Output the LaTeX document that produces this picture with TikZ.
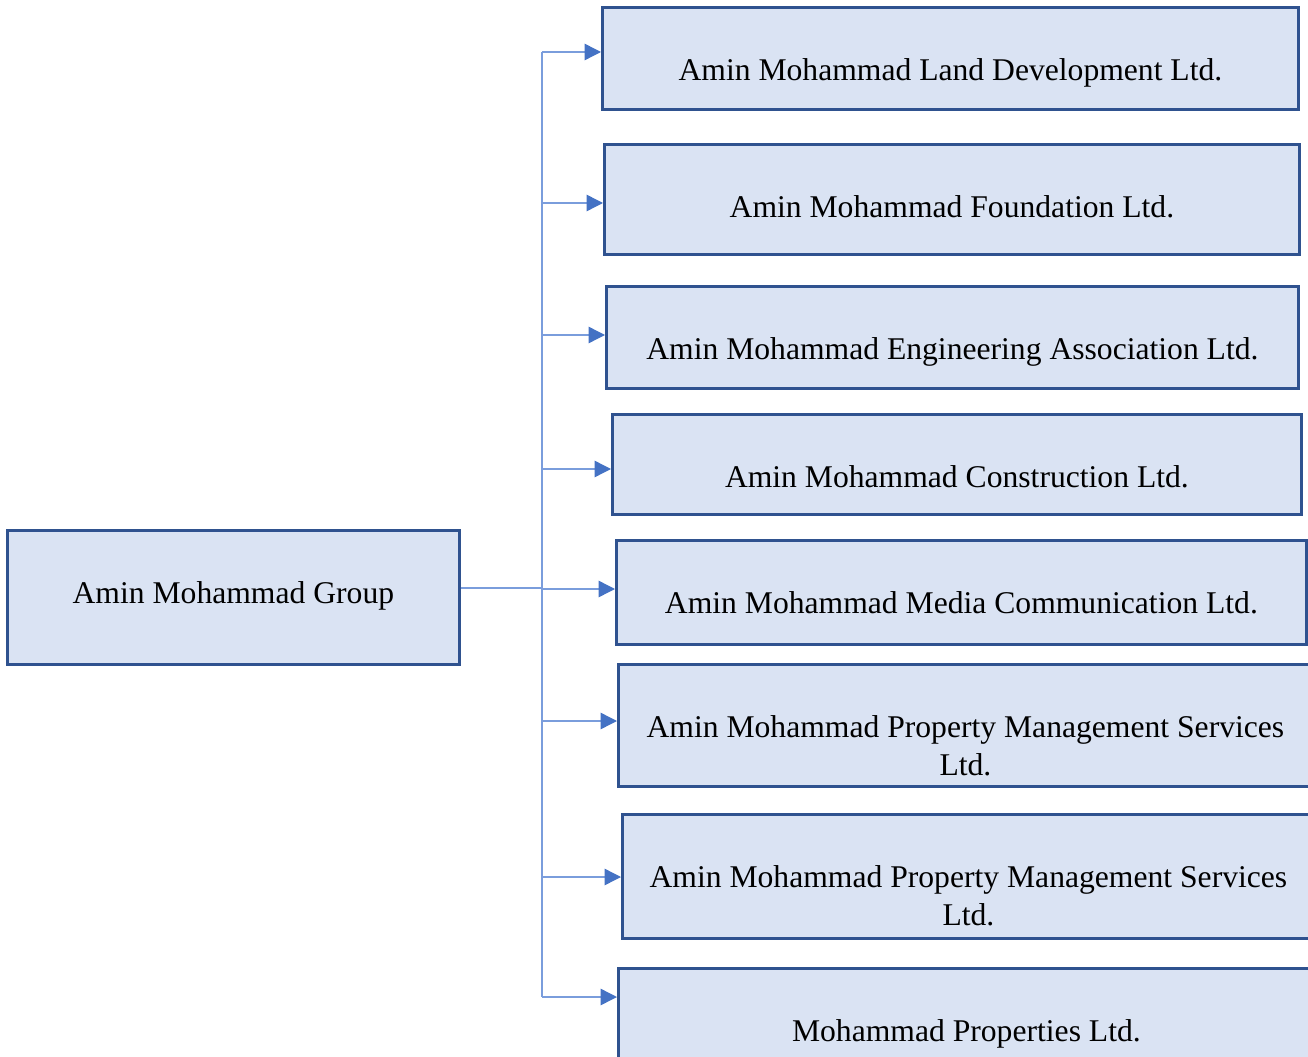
\documentclass[tikz,border=0pt]{standalone}
\usepackage{fontspec}
\setmainfont{Liberation Serif}
\usetikzlibrary{arrows.meta, positioning}

\definecolor{boxfill}{HTML}{DAE3F3}
\definecolor{boxline}{HTML}{2F528F}
\definecolor{linkline}{HTML}{7A9DDC}
\definecolor{tipblue}{HTML}{4472C4}

\tikzset{
  unit/.style={draw=boxline, fill=boxfill, line width=1.6pt, anchor=north west, inner sep=0pt},
  boxsize/.style 2 args={minimum width=#1*0.02cm, minimum height=#2*0.02cm},
  unittext/.style={font=\fontsize{18}{21.6}\selectfont, align=center, anchor=north, inner sep=0pt},
  link/.style={draw=linkline, line width=0.8pt},
  feed/.style={link, -{Triangle[length=0.33cm, width=0.33cm, color=tipblue]}},
}

\begin{document}
\begin{tikzpicture}[x=0.02cm, y=-0.02cm]
\useasboundingbox (0,0) rectangle (1308,1057);
\clip (0,0) rectangle (1308,1057);

% --- parent company ---
\node[unit, boxsize={452}{134}] (grp) at (6,529) {};
\node[unittext] (tgrp) at ([yshift=-1.04cm]grp.north) {Amin Mohammad Group};

% --- sister concerns ---
\node[unit, boxsize={696}{102}] (b1) at (601,6) {};
\node[unittext] (t1) at ([yshift=-1.04cm]b1.north) {Amin Mohammad Land Development Ltd.};

\node[unit, boxsize={695}{110}] (b2) at (603,143) {};
\node[unittext] (t2) at ([yshift=-1.04cm]b2.north) {Amin Mohammad Foundation Ltd.};

\node[unit, boxsize={692}{102}] (b3) at (605,285) {};
\node[unittext] (t3) at ([yshift=-1.04cm]b3.north) {Amin Mohammad Engineering Association Ltd.};

\node[unit, boxsize={689}{100}] (b4) at (611,413) {};
\node[unittext] (t4) at ([yshift=-1.04cm]b4.north) {Amin Mohammad Construction Ltd.};

\node[unit, boxsize={690}{104}] (b5) at (615,539) {};
\node[unittext] (t5) at ([yshift=-1.04cm]b5.north) {Amin Mohammad Media Communication Ltd.};

\node[unit, boxsize={694}{122}] (b6) at (617,663) {};
\node[unittext] (t6) at ([yshift=-1.04cm]b6.north) {Amin Mohammad Property Management Services\\Ltd.};

\node[unit, boxsize={692}{124}] (b7) at (621,813) {};
\node[unittext] (t7) at ([yshift=-1.04cm]b7.north) {Amin Mohammad Property Management Services\\Ltd.};

\node[unit, boxsize={696}{124}] (b8) at (617,967) {};
\node[unittext] (t8) at ([yshift=-1.04cm]b8.north) {Mohammad Properties Ltd.};

% --- connectors ---
\coordinate (jn) at (542,588);
\draw[link] (grp.east |- jn) -- (jn);
\draw[link] (jn |- 0,52) -- (jn |- 0,997);
\foreach \b/\y in {b1/52, b2/203, b3/335, b4/469, b5/589, b6/721, b7/877, b8/997}
  \draw[feed] (jn |- 0,\y) -- (\b.west |- 0,\y);

% next section heading, only its top shows
\node[font=\fontsize{26}{30}\selectfont\bfseries, anchor=base west, inner sep=0pt] (sec) at (110,1090) {2.2 Management Practices};
\end{tikzpicture}
\end{document}
